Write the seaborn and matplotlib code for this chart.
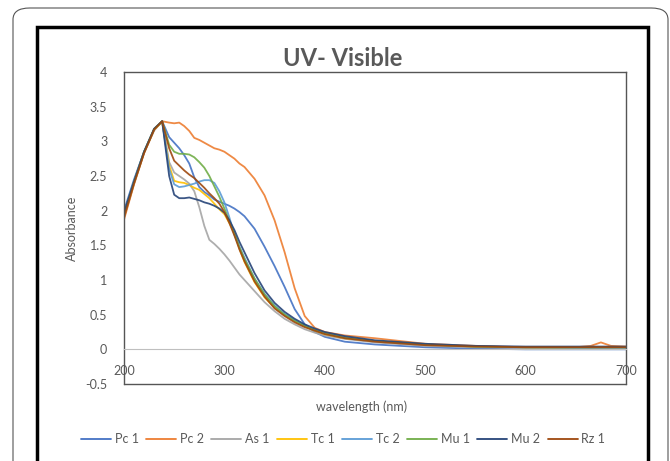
import matplotlib
matplotlib.use('Agg')
import matplotlib.pyplot as plt
import seaborn as sns
import pandas as pd
from matplotlib.patches import FancyBboxPatch, Rectangle

wavelength = [200, 210, 220, 230, 238, 245, 250, 255, 260, 265, 270, 275, 280, 285, 290, 295,
              300, 305, 310, 315, 320, 330, 340, 350, 360, 370, 380, 390, 400, 420, 450, 500,
              550, 600, 650, 665, 675, 685, 700]

pc1 = [2.0, 2.45, 2.85, 3.16, 3.29, 3.06, 2.98, 2.9, 2.8, 2.68, 2.48, 2.34, 2.27, 2.22, 2.16, 2.13,
       2.1, 2.07, 2.03, 1.98, 1.92, 1.74, 1.48, 1.2, 0.9, 0.58, 0.36, 0.25, 0.18, 0.11, 0.07, 0.03,
       0.01, 0.0, 0.0, 0.0, 0.0, 0.0, 0.0]
pc2 = [1.87, 2.38, 2.83, 3.16, 3.29, 3.27, 3.26, 3.27, 3.22, 3.15, 3.05, 3.02, 2.98, 2.94, 2.9, 2.88,
       2.85, 2.8, 2.75, 2.68, 2.63, 2.46, 2.22, 1.86, 1.4, 0.88, 0.48, 0.31, 0.25, 0.2, 0.16, 0.08,
       0.05, 0.03, 0.03, 0.05, 0.1, 0.05, 0.04]
as1 = [1.93, 2.4, 2.84, 3.17, 3.28, 2.7, 2.55, 2.5, 2.45, 2.39, 2.28, 2.05, 1.78, 1.58, 1.52, 1.45,
       1.37, 1.28, 1.18, 1.08, 1.0, 0.84, 0.68, 0.55, 0.44, 0.36, 0.29, 0.24, 0.2, 0.15, 0.1, 0.05,
       0.03, 0.02, 0.02, 0.02, 0.02, 0.02, 0.02]
tc1 = [1.93, 2.4, 2.84, 3.17, 3.28, 2.65, 2.43, 2.41, 2.4, 2.37, 2.33, 2.3, 2.24, 2.18, 2.1, 2.02,
       1.95, 1.82, 1.68, 1.45, 1.26, 0.97, 0.75, 0.6, 0.49, 0.41, 0.33, 0.27, 0.22, 0.16, 0.12, 0.07,
       0.04, 0.03, 0.02, 0.02, 0.02, 0.02, 0.02]
tc2 = [1.95, 2.42, 2.85, 3.18, 3.29, 2.6, 2.38, 2.34, 2.35, 2.37, 2.39, 2.42, 2.44, 2.44, 2.4, 2.28,
       2.12, 1.9, 1.65, 1.48, 1.32, 1.02, 0.8, 0.63, 0.51, 0.42, 0.34, 0.28, 0.23, 0.17, 0.12, 0.07,
       0.04, 0.03, 0.02, 0.02, 0.02, 0.02, 0.02]
mu1 = [1.95, 2.42, 2.85, 3.18, 3.29, 2.95, 2.85, 2.82, 2.82, 2.81, 2.77, 2.7, 2.62, 2.5, 2.35, 2.2,
       2.03, 1.85, 1.67, 1.47, 1.3, 1.02, 0.79, 0.62, 0.5, 0.41, 0.34, 0.28, 0.23, 0.17, 0.12, 0.07,
       0.04, 0.03, 0.03, 0.03, 0.03, 0.03, 0.03]
mu2 = [1.97, 2.42, 2.85, 3.18, 3.29, 2.5, 2.23, 2.18, 2.18, 2.19, 2.17, 2.15, 2.12, 2.1, 2.07, 2.03,
       1.97, 1.86, 1.72, 1.55, 1.4, 1.1, 0.85, 0.67, 0.54, 0.44, 0.36, 0.3, 0.25, 0.19, 0.13, 0.08,
       0.05, 0.04, 0.04, 0.04, 0.04, 0.04, 0.04]
rz1 = [1.9, 2.39, 2.83, 3.17, 3.29, 2.9, 2.72, 2.65, 2.58, 2.52, 2.47, 2.4, 2.33, 2.25, 2.18, 2.1,
       1.98, 1.82, 1.64, 1.44, 1.27, 0.98, 0.76, 0.59, 0.48, 0.39, 0.32, 0.27, 0.22, 0.16, 0.11, 0.06,
       0.04, 0.03, 0.03, 0.03, 0.03, 0.03, 0.03]

series = ['Pc 1', 'Pc 2', 'As 1', 'Tc 1', 'Tc 2', 'Mu 1', 'Mu 2', 'Rz 1']
colors = ['#4472C4', '#ED7D31', '#A5A5A5', '#FFC000', '#5B9BD5', '#70AD47', '#264478', '#9E480E']
values = [pc1, pc2, as1, tc1, tc2, mu1, mu2, rz1]

df = pd.concat([pd.DataFrame({'wavelength': wavelength, 'absorbance': v, 'sample': s})
                for s, v in zip(series, values)], ignore_index=True)

sns.set_style('white')
plt.rcParams['font.family'] = ['Lato', 'DejaVu Sans']
txt = '#595959'

fig = plt.figure(figsize=(6.7, 4.61), dpi=100)
W, H = 670, 461
ax = fig.add_axes([124 / W, 1 - 384 / H, (626 - 124) / W, (384 - 72) / H])

sns.lineplot(data=df, x='wavelength', y='absorbance', hue='sample', hue_order=series,
             palette=colors, linewidth=1.3, alpha=0.9, ax=ax, legend=False, sort=False)

ax.set_xlim(200, 700)
ax.set_ylim(-0.5, 4)
ax.set_xticks([200, 300, 400, 500, 600, 700])
ax.set_yticks([-0.5, 0, 0.5, 1, 1.5, 2, 2.5, 3, 3.5, 4])
ax.set_yticklabels(['-0.5', '0', '0.5', '1', '1.5', '2', '2.5', '3', '3.5', '4'])
ax.set_xlabel('')
ax.set_ylabel('')
ax.tick_params(axis='both', length=0, labelsize=9, labelcolor=txt)
ax.tick_params(axis='y', pad=12)
ax.tick_params(axis='x', pad=11)

for s in ['top', 'left', 'right']:
    ax.spines[s].set_color('#555555')
    ax.spines[s].set_linewidth(1.0)
ax.spines['bottom'].set_position(('data', 0))
ax.spines['bottom'].set_color('#BFBFBF')
ax.spines['bottom'].set_linewidth(0.8)
ax.plot([0, 1], [0, 0], transform=ax.transAxes, color='#555555', lw=1.0, clip_on=False)

fig.text(343 / W, 1 - 58 / H, 'UV- Visible', ha='center', va='center',
         fontsize=17, fontweight='bold', color=txt)
fig.text(72 / W, 1 - 228 / H, 'Absorbance', rotation=90, ha='center', va='center',
         fontsize=9, color=txt)
fig.text(362 / W, 1 - 407 / H, 'wavelength (nm)', ha='center', va='center',
         fontsize=9, color=txt)

handles = [plt.Line2D([], [], color=c, lw=1.3) for c in colors]
leg = fig.legend(handles, series, loc='center', bbox_to_anchor=(343 / W, 1 - 439 / H),
                 ncol=8, frameon=False, fontsize=9, handlelength=2.4,
                 columnspacing=0.6, handletextpad=0.3)
for t in leg.get_texts():
    t.set_color(txt)

# chart frames
fig.patches.append(Rectangle((37 / W, -0.05), (648 - 37) / W, 1 - 27 / H + 0.05,
                             transform=fig.transFigure, fill=False, ec='black', lw=2.5))
fig.patches.append(FancyBboxPatch((13 / W, -0.1), (668 - 13) / W, 1 - 8 / H + 0.1,
                                  boxstyle='round,pad=0,rounding_size=0.025',
                                  transform=fig.transFigure, fill=False, ec='#555555', lw=0.8))

fig.savefig('out.png', dpi=100)
